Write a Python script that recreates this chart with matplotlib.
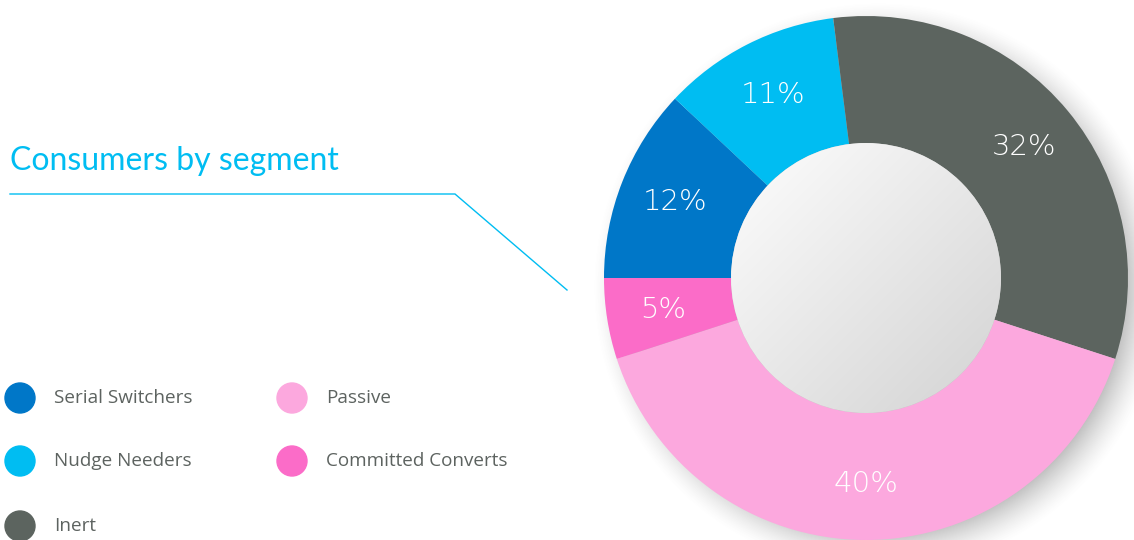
import matplotlib.pyplot as plt
import numpy as np
from matplotlib.patches import Circle

# segment shares (%)
segments = ['Serial Switchers', 'Nudge Needers', 'Inert', 'Passive', 'Committed Converts']
shares = [12, 11, 32, 40, 5]
colors = ['#0077c8', '#00bdf2', '#5c645f', '#fca8de', '#fb6cc8']

W, H = 1134, 540
fig = plt.figure(figsize=(W / 100, H / 100), dpi=100)
ax = fig.add_axes([0, 0, 1, 1])
ax.set_xlim(0, W)
ax.set_ylim(0, H)
ax.set_aspect('equal')
ax.axis('off')

cx, cy = 866, 262
R_out, R_in = 262, 135

# soft drop shadow behind the ring
yy, xx = np.mgrid[0:H, 0:W]
d = np.hypot(xx - (cx + 12), yy - (cy - 10))
alpha = 0.38 * np.clip((R_out + 24 - d) / 40.0, 0, 1) ** 1.5
shadow = np.zeros((H, W, 4))
shadow[..., :3] = 0.35
shadow[..., 3] = alpha
ax.imshow(shadow, extent=(0, W, 0, H), origin='lower', zorder=1)

wedges, _, autotexts = ax.pie(
    shares, colors=colors, startangle=180, counterclock=False,
    radius=R_out, center=(cx, cy), autopct='%d%%', pctdistance=0.785,
    wedgeprops=dict(width=R_out - R_in, linewidth=0),
    textprops=dict(color='white', fontsize=21, family='DejaVu Sans',
                   fontweight='light'))
for w in wedges:
    w.set_zorder(2)
for t in autotexts:
    t.set_zorder(5)
ax.set_xlim(0, W)
ax.set_ylim(0, H)
ax.axis('off')

# centre disc with light grey gradient
g = np.clip(((xx - (cx - R_in)) + ((cy + R_in) - yy)) / (4.0 * R_in), 0, 1)
shade = 0.995 - 0.17 * g
disc = np.dstack([shade, shade, shade, np.ones_like(shade)])
im = ax.imshow(disc, extent=(0, W, 0, H), origin='lower', zorder=3)
clip = Circle((cx, cy), R_in, transform=ax.transData)
im.set_clip_path(clip)

# title and leader line
ax.text(10, H - 170, 'Consumers by segment', color='#00bdf2', fontsize=23,
        family='Lato', ha='left', va='baseline')
ax.plot([10, 455, 567], [H - 194, H - 194, H - 290], color='#00bdf2', lw=1.0,
        solid_joinstyle='miter')

# legend
rows = [398, 461, 526]
cols = [20, 292]
for i, (name, col) in enumerate(zip(segments, colors)):
    x0 = cols[i // 3]
    y0 = H - rows[i % 3]
    ax.add_patch(Circle((x0, y0), 15, color=col, zorder=4))
    ax.text(x0 + 34, y0, name, color='#5d6360', fontsize=13.6, family='Open Sans',
            ha='left', va='center')

fig.savefig('out.png', dpi=100)
